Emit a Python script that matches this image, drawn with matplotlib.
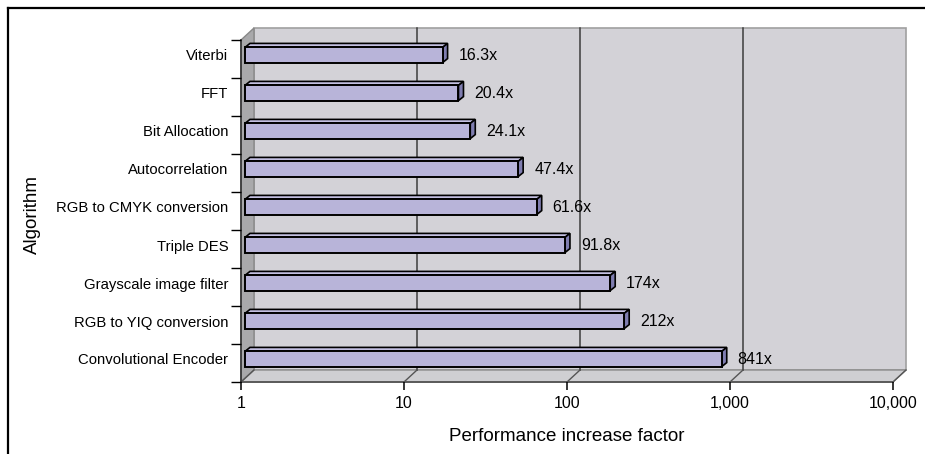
import matplotlib.pyplot as plt
from matplotlib.patches import Polygon, Rectangle
from matplotlib.lines import Line2D
from matplotlib.transforms import Affine2D, IdentityTransform
from matplotlib.ticker import FixedLocator, FuncFormatter

algorithms = ['Viterbi', 'FFT', 'Bit Allocation', 'Autocorrelation',
              'RGB to CMYK conversion', 'Triple DES', 'Grayscale image filter',
              'RGB to YIQ conversion', 'Convolutional Encoder']
speedup = [16.3, 20.4, 24.1, 47.4, 61.6, 91.8, 174, 212, 841]
speedup_labels = ['16.3x', '20.4x', '24.1x', '47.4x', '61.6x', '91.8x', '174x', '212x', '841x']
x_ticks = [1, 10, 100, 1000, 10000]

plt.rcParams['font.family'] = ['Liberation Sans Narrow', 'Liberation Sans', 'DejaVu Sans']

W, H = 925, 454
fig = plt.figure(figsize=(W / 100, H / 100), dpi=100)
ax = fig.add_axes([241 / W, 72 / H, 652 / W, 342 / H])
ax.set_xscale('log')
ax.set_xlim(1, 10000)
n = len(algorithms)
ax.set_ylim(-0.5, n - 0.5)
ax.patch.set_visible(False)
for s in ax.spines.values():
    s.set_visible(False)

# depth of the 3d box (pixels) and of the bars
DX, DY = 13, 12
BX0, BY0 = 4, 4
BX1, BY1 = 9, 8

wall_col = '#d3d2d7'
side_col = '#a9a9ab'
floor_col = '#cfcfd2'
edge_col = '#8c8c8c'

disp = IdentityTransform()
back = ax.transAxes + Affine2D().translate(DX, DY)


def ax_px(x, y):
    return ax.transAxes.transform((x, y))


def data_px(x, y):
    return ax.transData.transform((x, y))


def add_poly(pts, z, **kw):
    ax.add_patch(Polygon(pts, closed=True, transform=disp, clip_on=False, zorder=z, **kw))


def add_line(xs, ys, z, **kw):
    ax.add_line(Line2D(xs, ys, transform=disp, clip_on=False, zorder=z, **kw))


# back wall
ax.add_patch(Rectangle((0, 0), 1, 1, transform=back, facecolor=wall_col,
                       edgecolor='#a0a0a0', lw=1.2, zorder=0, clip_on=False))
# left wall
p00, p01 = ax_px(0, 0), ax_px(0, 1)
add_poly([p00, p01, p01 + (DX, DY), p00 + (DX, DY)], 0.5,
         facecolor=side_col, edgecolor='#888888', lw=1.0)
# floor
p10 = ax_px(1, 0)
add_poly([p00, p10, p10 + (DX, DY), p00 + (DX, DY)], 0.5,
         facecolor=floor_col, edgecolor=edge_col, lw=1.0)
add_line([p00[0], p10[0]], [p00[1], p10[1]], 1, color='#555555', lw=1.3)

# gridlines on the back wall, with the diagonals across the floor
for t in x_ticks[1:-1]:
    bx, by0 = data_px(t, -0.5) + (DX, DY)
    _, by1 = data_px(t, n - 0.5) + (DX, DY)
    add_line([bx, bx], [by0, by1], 0.8, color='#3c3c3c', lw=1.1)
for t in x_ticks:
    fx, fy = data_px(t, -0.5)
    add_line([fx, fx + DX], [fy, fy + DY], 0.8, color='#555555', lw=1.0)

# bars: front face through barh, top and end faces as parallelograms
ypos = list(range(n - 1, -1, -1))
bh = 0.4
front = ax.transData + Affine2D().translate(BX0, BY0)
ax.barh(ypos, [v - 1 for v in speedup], left=1, height=bh, color='#b8b4d9',
        edgecolor='black', lw=1.4, transform=front, zorder=3, clip_on=False)
for y, v, lab in zip(ypos, speedup, speedup_labels):
    tl = data_px(1, y + bh / 2)
    tr = data_px(v, y + bh / 2)
    br = data_px(v, y - bh / 2)
    add_poly([tl + (BX0, BY0), tr + (BX0, BY0), tr + (BX1, BY1), tl + (BX1, BY1)], 2,
             facecolor='#c4c0e2', edgecolor='black', lw=1.2)
    add_poly([tr + (BX0, BY0), br + (BX0, BY0), br + (BX1, BY1), tr + (BX1, BY1)], 2,
             facecolor='#7f7db0', edgecolor='black', lw=1.2)
    ax.annotate(lab, xy=(v, y), xytext=(BX1 + 11, BY0), textcoords='offset pixels',
                ha='left', va='center', fontsize=11.5, zorder=4)

# axes ticks and labels
ax.xaxis.set_major_locator(FixedLocator(x_ticks))
ax.xaxis.set_minor_locator(FixedLocator([]))
ax.xaxis.set_major_formatter(FuncFormatter(lambda v, p: f'{v:,.0f}'))
ax.tick_params(axis='x', length=6, width=1.1, color='black', labelsize=11.5, pad=4)
ax.set_yticks(ypos)
ax.set_yticklabels(algorithms)
ax.tick_params(axis='y', length=0, labelsize=10.7, pad=9)
for lbl in ax.get_yticklabels():
    lbl.set_transform(lbl.get_transform() + Affine2D().translate(0, BY0))
ax.set_yticks([k - 0.5 for k in range(n + 1)], minor=True)
ax.tick_params(axis='y', which='minor', length=7, width=1.0, color='black')
ax.spines['left'].set_visible(True)
ax.spines['left'].set_color('#333333')
ax.spines['left'].set_linewidth(1.2)
ax.spines['left'].set_zorder(1)

ax.set_xlabel('Performance increase factor', fontsize=13.5, labelpad=12)
ax.set_ylabel('Algorithm', fontsize=13.5)
ax.yaxis.set_label_coords(-0.307, 0.49)

# outer frame: top and left only
fig.lines.append(Line2D([8, W], [H - 8, H - 8], transform=disp, color='black', lw=1.6))
fig.lines.append(Line2D([8, 8], [0, H - 8], transform=disp, color='black', lw=1.6))

fig.savefig('out.png', dpi=100)
